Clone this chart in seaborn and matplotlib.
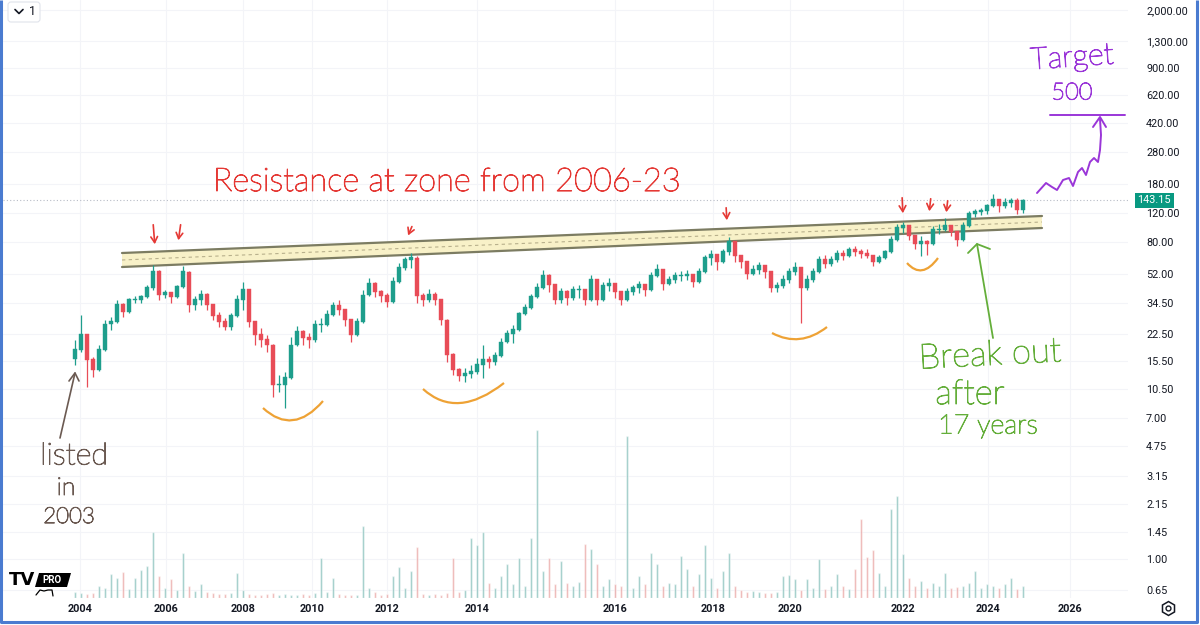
import numpy as np
import pandas as pd
import matplotlib.pyplot as plt
import matplotlib.patheffects as pe
import seaborn as sns
from matplotlib.path import Path
from matplotlib.patches import PathPatch, Polygon, FancyBboxPatch
from matplotlib.transforms import blended_transform_factory

# price path (roughly one candle per ~6 weeks)
close = [18.05, 22.2, 15.7, 13.7, 18.05, 25.8, 26.6, 33.7, 30.5, 36.1,
         36.1, 37.6, 42.6, 53.1, 38.6, 39.7, 37.6, 43.2, 53.1, 33.7,
         36.1, 38.6, 33.7, 28.9, 26.6, 24.8, 28.9, 36.1, 41.4, 26.6,
         22.2, 20.7, 19.3, 11.1, 11.1, 12.3, 19.3, 23.1, 21.3, 20.7,
         25.5, 25.5, 29.3, 33.2, 31.4, 27.3, 22.2, 26.6, 38.6, 45.0,
         40.3, 38.1, 35.1, 46.3, 56.2, 62.8, 64.5, 38.1, 36.1, 38.6,
         36.1, 27.3, 16.8, 13.7, 12.6, 13.0, 13.3, 14.65, 15.7, 15.3,
         16.6, 20.1, 22.5, 23.8, 29.7, 32.3, 37.6, 42.6, 50.2, 44.4,
         36.1, 40.3, 37.1, 41.4, 41.4, 36.1, 47.6, 36.1, 43.8, 45.0,
         40.3, 36.1, 40.3, 42.6, 44.4, 41.4, 50.2, 54.6, 45.0, 47.6,
         50.2, 50.2, 51.0, 46.3, 53.1, 64.5, 67.3, 61.1, 70.1, 80.5,
         66.4, 61.1, 51.7, 54.6, 57.8, 53.1, 42.6, 43.8, 47.6, 53.1,
         56.2, 42.6, 47.6, 53.1, 62.8, 59.4, 62.8, 68.2, 66.4, 72.1,
         70.1, 68.2, 66.4, 61.1, 64.5, 70.1, 82.8, 97.8, 100.5, 87.5,
         78.3, 80.5, 78.3, 95.1, 95.1, 100.5, 92.5, 82.8, 100.5, 118.6,
         122.0, 123.7, 132.5, 144.0, 132.5, 138.1, 142.0, 125.4, 143.15]
high = [20.7, 29.3, 22.5, 16.4, 19.3, 27.3, 28.5, 36.1, 34.5, 37.1,
        38.1, 38.6, 44.4, 58.6, 54.5, 41.4, 40.3, 44.4, 57.8, 54.0,
        38.1, 41.4, 39.5, 34.2, 30.5, 28.1, 30.1, 38.6, 46.3, 42.0,
        27.0, 24.4, 22.2, 19.6, 12.8, 13.3, 21.6, 25.1, 23.8, 22.8,
        27.3, 28.1, 31.4, 35.1, 36.1, 32.0, 27.8, 28.1, 41.4, 48.9,
        46.3, 41.4, 39.7, 49.6, 60.2, 65.4, 69.2, 66.0, 39.7, 42.0,
        40.3, 36.8, 27.8, 17.2, 14.0, 14.1, 14.65, 16.2, 19.3, 16.6,
        17.6, 21.3, 23.8, 25.5, 30.5, 34.2, 39.2, 45.7, 54.6, 51.5,
        45.0, 42.6, 41.4, 43.8, 44.4, 42.2, 51.0, 48.3, 46.3, 48.9,
        45.7, 41.0, 42.6, 44.4, 46.9, 45.0, 53.1, 59.4, 55.5, 50.2,
        53.1, 53.9, 54.6, 51.8, 56.2, 67.3, 72.1, 68.5, 73.1, 86.3,
        81.5, 67.5, 62.0, 58.6, 61.1, 58.6, 54.0, 46.3, 51.0, 56.2,
        61.1, 57.0, 51.0, 56.2, 66.4, 67.3, 66.4, 72.1, 72.1, 75.2,
        76.2, 73.1, 73.1, 67.2, 67.3, 72.1, 87.5, 103.3, 106.2, 101.5,
        88.5, 87.5, 82.8, 100.5, 103.3, 112.3, 101.5, 93.5, 106.2, 123.7,
        127.1, 128.9, 136.2, 156.5, 146.0, 148.1, 148.1, 148.1, 146.0]
low = [14.65, 17.5, 10.8, 12.4, 13.5, 17.8, 23.8, 26.2, 28.5, 30.0,
       34.6, 34.6, 37.2, 41.4, 36.1, 37.1, 34.6, 37.0, 42.5, 30.5,
       31.4, 33.7, 31.4, 27.3, 24.8, 23.8, 23.8, 28.4, 31.4, 24.8,
       19.3, 18.8, 17.6, 9.44, 10.1, 8.08, 12.0, 19.0, 19.3, 18.5,
       20.3, 23.1, 25.0, 28.9, 29.3, 25.1, 20.1, 21.8, 26.2, 38.0,
       37.6, 35.1, 32.8, 34.6, 45.6, 54.6, 56.2, 34.6, 33.2, 35.1,
       33.7, 25.5, 15.3, 12.8, 11.7, 11.6, 12.3, 13.0, 12.3, 14.1,
       14.65, 16.3, 19.8, 19.9, 23.4, 29.2, 31.8, 37.0, 42.0, 40.3,
       34.2, 34.6, 33.7, 36.1, 37.1, 33.7, 35.5, 33.7, 35.6, 40.8,
       37.1, 33.7, 35.5, 38.6, 39.7, 38.1, 40.8, 49.5, 41.4, 44.4,
       45.7, 46.9, 47.6, 43.2, 45.8, 52.5, 58.6, 54.6, 60.5, 67.3,
       61.1, 56.2, 48.2, 51.0, 51.7, 48.9, 40.3, 40.3, 42.6, 45.7,
       51.0, 26.2, 41.4, 46.3, 52.5, 56.2, 57.8, 61.1, 62.8, 65.4,
       66.4, 64.5, 64.5, 57.8, 60.2, 63.8, 69.5, 82.0, 91.2, 82.8,
       73.1, 66.4, 67.3, 77.5, 90.0, 94.0, 87.5, 76.2, 82.0, 99.5,
       113.8, 117.0, 118.6, 131.0, 122.0, 128.9, 130.7, 118.6, 121.0]
volume = [6, 5, 4, 5, 12, 10, 24, 20, 26, 9,
          20, 28, 32, 66, 22, 10, 19, 8, 45, 12,
          7, 14, 6, 5, 4, 4, 5, 25, 8, 4,
          3, 3, 4, 5, 3, 4, 3, 3, 4, 3,
          5, 40, 6, 20, 4, 3, 3, 3, 72, 10,
          6, 3, 4, 22, 31, 10, 27, 51, 4, 3,
          4, 3, 5, 40, 6, 8, 60, 53, 66, 15,
          10, 22, 34, 14, 40, 12, 60, 168, 27, 40,
          14, 37, 15, 12, 16, 54, 49, 34, 12, 19,
          14, 12, 162, 10, 22, 14, 45, 34, 12, 15,
          14, 42, 29, 12, 24, 53, 20, 10, 27, 45,
          12, 8, 6, 7, 6, 5, 5, 6, 22, 23,
          19, 8, 19, 10, 39, 9, 12, 24, 12, 9,
          29, 79, 41, 48, 25, 12, 89, 102, 44, 20,
          12, 17, 10, 15, 12, 25, 10, 11, 12, 15,
          27, 10, 14, 12, 10, 14, 20, 9, 12]
first_open = 16.0
year_labels = ['2004', '2006', '2008', '2010', '2012', '2014',
               '2016', '2018', '2020', '2022', '2024', '2026']
year_pos = [0.8, 15.2, 28.0, 39.5, 52.0, 67.0, 90.0, 106.3, 119.2, 138.0, 152.2, 165.8]
price_ticks = [2000, 1300, 900, 620, 420, 280, 180, 120, 80, 52, 34.5,
               22.5, 15.5, 10.5, 7, 4.75, 3.15, 2.15, 1.45, 1.0, 0.65]
last_price = 143.15

UP, DOWN = '#1e9e8c', '#e84c57'
TXT = '#131722'

sns.set_theme(style='white')
plt.rcParams['font.family'] = ['Roboto', 'DejaVu Sans']

df = pd.DataFrame({'idx': np.arange(len(close)), 'close': close,
                   'high': high, 'low': low, 'volume': volume})
df['open'] = [first_open] + close[:-1]
df['dir'] = np.where(df['close'] >= df['open'], 'up', 'down')
col = df['dir'].map({'up': UP, 'down': DOWN})

fig = plt.figure(figsize=(12, 6.25), dpi=100)
fig.patch.set_facecolor('white')

# pixel-space helper axes (annotations are placed in screen pixels)
under = fig.add_axes([0, 0, 1, 1], zorder=0)
under.set_xlim(0, 1200)
under.set_ylim(625, 0)
under.axis('off')

ax = fig.add_axes([0.0025, 0.0432, 0.9375, 0.9568], zorder=1)
ax.set_facecolor('none')
ax.set_yscale('log')

for t in price_ticks:
    ax.axhline(t, color='#f3f4f8', lw=0.8, zorder=0)
for p in year_pos:
    ax.axvline(p, color='#f3f4f8', lw=0.8, zorder=0)

# resistance channel, above grid but under candles
px = under.transData
ax.add_patch(Polygon([(122, 253), (1042, 216), (1042, 228), (122, 267)],
                     closed=True, fc='#f8f1c8', ec='none', transform=px, zorder=1))
ax.plot([122, 1042], [253, 216], color='#7c7c62', lw=1.6, transform=px, zorder=1.5)
ax.plot([122, 1042], [267, 228], color='#7c7c62', lw=1.6, transform=px, zorder=1.5)
ax.plot([122, 1042], [260, 222], color='#b8b08c', lw=0.8, ls=(0, (3, 3)), transform=px, zorder=1.5)

ax.vlines(df['idx'], df['low'], df['high'], colors=col, lw=0.9, zorder=3)
body_lo = df[['open', 'close']].min(axis=1)
body_h = (df['close'] - df['open']).abs() + body_lo * 0.012
ax.bar(df['idx'], body_h, bottom=body_lo, width=0.55, color=col, edgecolor=col,
       linewidth=0.3, zorder=4)
ax.axhline(last_price, color='#b8bcc6', lw=0.8, ls=(0, (1, 2)), zorder=2)

axv = ax.twinx()
sns.barplot(data=df, x='idx', y='volume', hue='dir', palette={'up': '#26a69a', 'down': '#ef5350'},
            native_scale=True, dodge=False, width=0.4, errorbar=None, alpha=0.55,
            legend=False, ax=axv)
axv.set_ylim(0, max(volume) * 3.56)
axv.set_yticks([])
axv.set_ylabel('')
axv.set_xlabel('')
for s in axv.spines.values():
    s.set_visible(False)

ax.set_xlim(-12, 175.5)
ax.set_ylim(0.5823, 2297)
ax.minorticks_off()
ax.yaxis.tick_right()
ax.set_yticks(price_ticks)
ax.set_yticklabels([f'{t:,.2f}' for t in price_ticks])
ax.set_xticks(year_pos)
ax.set_xticklabels(year_labels)
ax.tick_params(axis='y', which='both', length=0, pad=13, labelsize=7.8, labelcolor=TXT)
ax.tick_params(axis='x', length=0, pad=4, labelsize=7.8, labelcolor=TXT)
for lbl in ax.get_xticklabels():
    lbl.set_fontweight('bold')
ax.set_xlabel('')
ax.set_ylabel('')
for s in ax.spines.values():
    s.set_visible(False)

# last price tag
trans = blended_transform_factory(ax.transAxes, ax.transData)
ax.text(1.0085, last_price, f'{last_price:.2f}', transform=trans, ha='left', va='center',
        fontsize=7.8, color='white', zorder=10, clip_on=False,
        bbox=dict(boxstyle='square,pad=0.25', fc='#089981', ec='none'))

# annotation layer
top = fig.add_axes([0, 0, 1, 1], zorder=5)
top.set_xlim(0, 1200)
top.set_ylim(625, 0)
top.axis('off')


def hand(color):
    return dict(family=['Lato', 'DejaVu Sans'], fontweight='light', color=color,
                path_effects=[pe.withStroke(linewidth=0.7, foreground=color)])


red = '#e53935'
for tail, head in [((153, 222), (155, 247)), ((181, 222), (178, 243)),
                   ((413, 224), (407, 238)), ((726, 205), (727, 223)),
                   ((902, 195), (903, 216)), ((931, 196), (929, 214)),
                   ((948, 198), (946, 215))]:
    top.annotate('', xy=head, xytext=tail,
                 arrowprops=dict(arrowstyle='->,head_length=0.35,head_width=0.2', color=red, lw=1.2))
top.text(213, 182, 'Resistance at zone from 2006-23', fontsize=23.5,
         ha='left', va='center', **hand(red))

orange = '#eea235'
for p0, c, p2 in [((263, 408), (293, 436), (323, 401)), ((423, 389), (457, 420), (504, 383)),
                  ((772, 333), (800, 348), (827, 327)), ((907, 263), (922, 280), (938, 258))]:
    top.add_patch(PathPatch(Path([p0, c, p2], [Path.MOVETO, Path.CURVE3, Path.CURVE3]),
                            fill=False, ec=orange, lw=1.6))

purple = '#9a36d8'
sq_x = [1037, 1046, 1052, 1057, 1063, 1069, 1073, 1078, 1082, 1086, 1090, 1094, 1098, 1100, 1101, 1100]
sq_y = [193, 183, 187, 190, 180, 178, 186, 172, 168, 175, 162, 158, 162, 150, 135, 119]
top.plot(sq_x, sq_y, color=purple, lw=1.4)
top.plot([1093, 1100, 1106], [127, 117, 127], color=purple, lw=1.4)
top.plot([1050, 1125], [115, 115], color=purple, lw=1.4)
top.text(1072, 58, 'Target', fontsize=22, ha='center', va='center', rotation=4, **hand(purple))
top.text(1072, 93, '500', fontsize=17, ha='center', va='center', **hand(purple))

green = '#64ae3a'
top.plot([993, 977], [338, 244], color=green, lw=1.3)
top.plot([968, 977, 990], [253, 244, 249], color=green, lw=1.3)
top.text(990, 355, 'Break out', fontsize=25, ha='center', va='center', rotation=3, **hand(green))
top.text(970, 394, 'after', fontsize=25, ha='center', va='center', **hand(green))
top.text(988, 426, '17 years', fontsize=19.5, ha='center', va='center', **hand(green))

brown = '#6b5a52'
top.plot([60, 75], [438, 373], color=brown, lw=1.2)
top.plot([69, 75, 79], [381, 373, 381], color=brown, lw=1.2)
top.text(74, 456, 'listed', fontsize=22, ha='center', va='center', **hand(brown))
top.text(66, 488, 'in', fontsize=18, ha='center', va='center', **hand(brown))
top.text(69, 517, '2003', fontsize=16, ha='center', va='center', **hand(brown))

# chart chrome: interval button, logo, settings icon, frame
top.add_patch(FancyBboxPatch((8, 2), 32, 20, boxstyle='round,pad=0,rounding_size=3',
                             fc='white', ec='#e0e3eb', lw=0.8))
top.plot([15, 19, 23], [9.5, 13.5, 9.5], color=TXT, lw=1.2)
top.text(33, 11.5, '1', color=TXT, fontsize=9, ha='center', va='center')
top.text(9, 580, 'TV', color='black', fontsize=13, fontweight='heavy', ha='left', va='center',
         family='DejaVu Sans')
top.add_patch(Polygon([(39, 573), (71, 573), (67, 587), (35, 587)], closed=True, fc='black', ec='none'))
top.text(52, 580, 'PRO', color='white', fontsize=7, fontweight='bold', ha='center', va='center')
top.plot([36, 40, 44, 48, 52, 53], [595, 590, 591, 590, 590, 596], color='black', lw=0.9)
top.plot(1168, 608, marker='h', ms=10, mfc='none', mec=TXT, mew=1.1)
top.plot(1168, 608, marker='o', ms=3.5, mfc='none', mec=TXT, mew=1.0)
frame = '#4a7bd0'
top.plot([1, 1, 1197, 1197], [0, 622, 622, 0], color=frame, lw=2.2, solid_capstyle='butt')

fig.savefig('out.png', dpi=100)
